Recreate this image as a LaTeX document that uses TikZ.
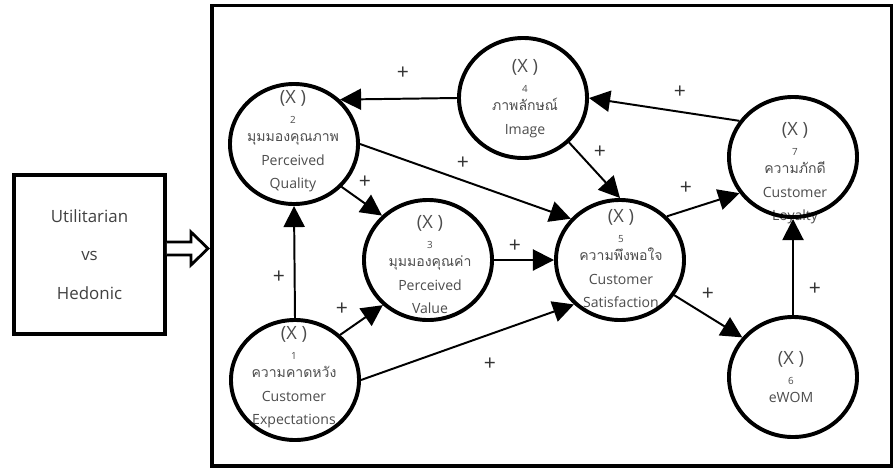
\documentclass[tikz,border=0pt]{standalone}
\usepackage{fontspec}
\setmainfont{Open Sans}
\newfontfamily\thaifont[Script=Thai]{Loma}
\usetikzlibrary{shapes.geometric, arrows.meta}

% heading of every construct: (X ) and its index
\newcommand{\xhead}[1]{{\fontsize{13}{13}\selectfont (X )}\\[-2.2pt]{\fontsize{7}{7}\selectfont #1}\\[-3.6pt]}

\begin{document}
\begin{tikzpicture}[x=0.025cm, y=-0.025cm,
  latent/.style={ellipse, draw, line width=2.8pt, minimum width=3.2cm, minimum height=3cm},
  lbl/.style={align=center, anchor=north, inner sep=0pt, text=black!70, font=\fontsize{10}{16.4}\selectfont},
  link/.style={line width=1.4pt, -{Triangle[length=15pt, width=15pt]}},
  plus/.style={inner sep=0pt, text=black!80, font=\fontsize{15}{15}\selectfont}]
\useasboundingbox (0,0) rectangle (893,468);

% Khung mo hinh
\draw[line width=2.5pt] (212,5.5) rectangle (892,466);

% Hop ben trai va mui ten rong
\node[draw, line width=2.8pt, minimum width=3.775cm, minimum height=3.975cm, align=center,
  text=black!75, font=\fontsize{12}{27.5}\selectfont] (uvh) at (89.5,254.5) {Utilitarian\\vs\\Hedonic};
\draw[line width=2pt, fill=white, line join=miter] (uvh.east) ++(0,-12.5) -- ++(24,0) -- ++(0,-10)
  -- ++(17,16.5) -- ++(-17,16.5) -- ++(0,-10) -- ++(-24,0);

% Chu trong cac vong tron
\node[lbl] (t1) at (294,326) {\xhead{1}{\thaifont ความคาดหวัง}\\[0.7pt]Customer\\Expectations};
\node[lbl] (t2) at (293,90) {\xhead{2}{\thaifont มุมมองคุณภาพ}\\[0.7pt]Perceived\\Quality};
\node[lbl] (t3) at (430,215) {\xhead{3}{\thaifont มุมมองคุณค่า}\\[0.7pt]Perceived\\Value};
\node[lbl] (t4) at (525,59) {\xhead{4}{\thaifont ภาพลักษณ์}\\[0.7pt]Image};
\node[lbl] (t5) at (621,209) {\xhead{5}{\thaifont ความพึงพอใจ}\\[0.7pt]Customer\\Satisfaction};
\node[lbl] (t6) at (791,351) {\xhead{6}eWOM};
\node[lbl] (t7) at (795,122) {\xhead{7}{\thaifont ความภักดี}\\[0.7pt]Customer\\Loyalty};

% Cac vong tron
\node[latent] (c1) at (295,380) {};
\node[latent] (c2) at (294,144) {};
\node[latent] (c3) at (428,260) {};
\node[latent] (c4) at (523,98) {};
\node[latent] (c5) at (620,260) {};
\node[latent] (c6) at (793,377) {};
\node[latent] (c7) at (793,157) {};

% Cac quan he
\draw[link] (c4.west) -- (c2.44);
\draw[link] (c7.146) -- (c4.east);
\draw[link] (c4.-44) -- (c5.north);
\draw[link] (c2.east) -- (c5.140);
\draw[link] (c2.-42) -- (c3.136);
\draw[link] (c1.north) -- (c2.south);
\draw[link] (c1.45) -- (c3.-135);
\draw[link] (c1.east) -- (c5.-136);
\draw[link] (c3.east) -- (c5.west);
\draw[link] (c5.43) -- (c7.-146);
\draw[link] (c5.-33) -- (c6.142);
\draw[link] (c6.north) -- (c7.south);

% Dau cong
\foreach \n/\px/\py in {1/403/73, 2/680/92, 3/600/152, 4/463/163, 5/365/182, 6/279/277,
  7/342/309, 8/515/246, 9/686/188, 10/708/294, 11/815/289, 12/490/364}
  \node[plus] (p\n) at (\px,\py) {+};
\end{tikzpicture}
\end{document}
